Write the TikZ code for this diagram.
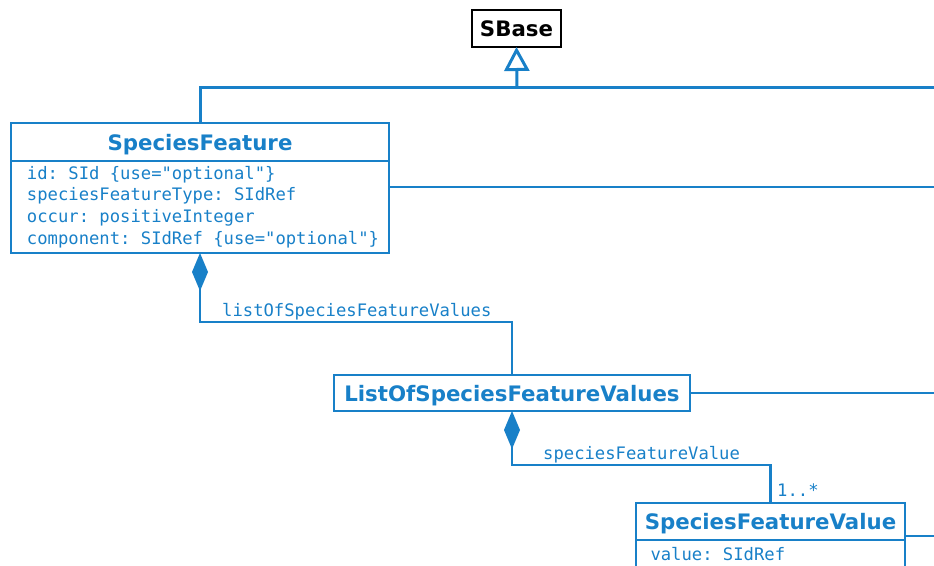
\documentclass[tikz,border=0pt]{standalone}
\usepackage{fontspec}
\setmainfont{DejaVu Sans}
\setmonofont{DejaVu Sans Mono}
\usetikzlibrary{arrows.meta}
\definecolor{umlblue}{RGB}{24,128,200}
\newcommand\fixsp{\frenchspacing\spaceskip=0.602em\relax\xspaceskip=0.602em\relax}
\begin{document}
\begin{tikzpicture}[x=1pt,y=-1pt,
  titlef/.style={font=\fontsize{21.3}{25}\selectfont\bfseries, text depth=0pt},
  monof/.style={font=\fontsize{17.2}{21.7}\selectfont\ttfamily},
  cls/.style={draw=umlblue, line width=2.6pt, text=umlblue, inner sep=0pt, outer sep=0pt},
  conn/.style={draw=umlblue, line width=2.6pt},
  lbl/.style={monof, text=umlblue, inner sep=0pt},
  comp/.style={{Diamond[length=38pt,width=16pt]}-}
]
\useasboundingbox (0,0) rectangle (934,565);
\clip (0,0) rectangle (934,565);

% classes
\node[draw=black, line width=2.6pt, titlef, minimum width=89pt, minimum height=37pt, inner sep=0pt, outer sep=0pt] (sbase) at (516.5,28.5) {SBase};

\node[cls, titlef, minimum width=378pt, minimum height=38pt] (sft) at (200,142) {SpeciesFeature};
\node[cls, monof, anchor=north, minimum width=378pt, minimum height=92pt, text width=346pt, align=left] (sfa) at (sft.south)
  {\fixsp\mbox{id: SId \{use="optional"\}}\\\mbox{speciesFeatureType: SIdRef}\\\mbox{occur: positiveInteger}\\\mbox{component: SIdRef \{use="optional"\}}};

\node[cls, titlef, minimum width=356pt, minimum height=36pt] (lo) at (512,393) {ListOfSpeciesFeatureValues};

\node[cls, titlef, minimum width=269pt, minimum height=37pt] (sfvt) at (770.5,521.5) {SpeciesFeatureValue};
\node[cls, monof, anchor=north, inner xsep=14.5pt, inner ysep=7pt] (sfvb) at (sfvt.south)
  {\parbox[t][60pt][t]{240pt}{\fixsp value: SIdRef}};

% inheritance
\coordinate (hub) at (517,87);
\coordinate (e0) at (934,87);
\draw[conn, line width=3pt] (sft.north) |- (e0);
\draw[conn, line width=3pt, -{Triangle[open, length=24pt, width=25pt, fill=white]}] (hub) -- (sbase.south);

% lines leaving to the right
\coordinate (e1) at (934,187);
\draw[conn] (sfa.east |- e1) -- (e1);
\coordinate (e2) at (934,393);
\draw[conn] (lo.east) -- (e2);
\coordinate (e3) at (934,536);
\draw[conn] (sfvt.east |- e3) -- (e3);

% compositions
\coordinate (b1) at (512,322);
\draw[conn, comp] (sfa.south) |- (b1) -- (lo.north);
\node[lbl, anchor=west] (l1) at (222,312) {listOfSpeciesFeatureValues};

\coordinate (b2) at (770.5,465);
\draw[conn, comp] (lo.south) |- (b2) -- (sfvt.north);
\node[lbl, anchor=west] (l2) at (543,455) {speciesFeatureValue};
\node[lbl, anchor=west] (m2) at (777,490) {1..*};
\end{tikzpicture}
\end{document}
